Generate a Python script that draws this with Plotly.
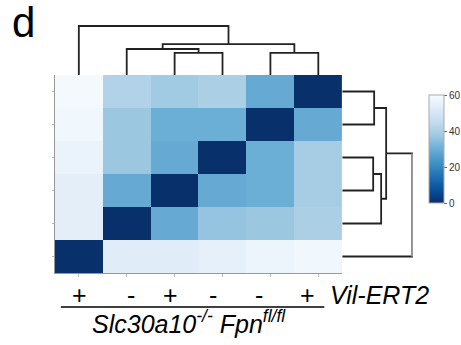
import plotly.graph_objects as go

W, H = 461, 345

# ---- data ----
samples = ["S1", "S2", "S3", "S4", "S5", "S6"]
genotype = ["+", "-", "+", "-", "-", "+"]
row_names = ["S6", "S5", "S4", "S3", "S2", "S1"]
z = [
    [59, 41, 38, 40, 29, 0],
    [58, 37, 30, 30, 0, 29],
    [56, 37, 29, 0, 30, 39],
    [54, 29, 0, 29, 30, 39],
    [54, 0, 29, 36, 37, 40],
    [0, 53, 53, 55, 57, 58],
]
# linkage (child_a, child_b, height), new cluster ids start at 6
col_links = [(2, 3, 0.45), (4, 5, 0.45), (1, 6, 0.53), (8, 7, 0.63), (0, 9, 1.0)]
row_links = [(0, 1, 0.457), (2, 3, 0.443), (7, 4, 0.557), (6, 8, 0.629), (9, 5, 1.0)]
cbar_ticks = [0, 20, 40, 60]

blues_r = [[0, '#08306b'], [0.125, '#08519c'], [0.25, '#2171b5'], [0.375, '#4292c6'],
           [0.5, '#6baed6'], [0.625, '#9ecae1'], [0.75, '#c6dbef'], [0.875, '#deebf7'],
           [1, '#f7fbff']]


def dendro(links, n):
    pos = {i: float(i) for i in range(n)}
    hgt = {i: 0.0 for i in range(n)}
    P, Q = [], []
    for k, (a, b, h) in enumerate(links):
        P += [pos[a], pos[a], pos[b], pos[b], None]
        Q += [hgt[a], h, h, hgt[b], None]
        pos[n + k] = (pos[a] + pos[b]) / 2
        hgt[n + k] = h
    return P, Q, pos, hgt


fig = go.Figure()
fig.add_trace(go.Heatmap(
    z=z, x=list(range(6)), y=list(range(6)), zmin=0, zmax=60,
    colorscale=blues_r, xaxis='x', yaxis='y',
    colorbar=dict(x=429 / W, xanchor='left', y=1 - 149 / H, yanchor='middle',
                  lenmode='pixels', len=108, thickness=15, outlinewidth=1,
                  outlinecolor='#aaa', tickvals=cbar_ticks, ticks='outside',
                  ticklen=3, tickcolor='#666', tickfont=dict(size=10, color='#333',
                  family='Arial, Liberation Sans'), xpad=0, ypad=0),
))

cx, cy, _, _ = dendro(col_links, 6)
fig.add_trace(go.Scatter(x=cx, y=cy, mode='lines', xaxis='x2', yaxis='y2',
                         line=dict(color='#222', width=1.8), hoverinfo='skip'))
rp, rh, rpos, rhgt = dendro(row_links, 6)
fig.add_trace(go.Scatter(x=rh, y=rp, mode='lines', xaxis='x3', yaxis='y3',
                         line=dict(color='#222', width=1.8), hoverinfo='skip'))
# root vertical of the row dendrogram is drawn lighter in the reference
ra, rb, rhr = row_links[-1]
fig.add_trace(go.Scatter(x=[rhr, rhr], y=[rpos[ra], rpos[rb]], mode='lines',
                         xaxis='x3', yaxis='y3', line=dict(color='#999', width=2),
                         hoverinfo='skip'))

font = 'Arial, Liberation Sans, sans-serif'
hm_x = [55 / W, 343 / W]
hm_y = [1 - 273 / H, 1 - 75 / H]
fig.update_layout(
    width=W, height=H, autosize=False, margin=dict(l=0, r=0, t=0, b=0),
    paper_bgcolor='white', plot_bgcolor='white', showlegend=False,
    font=dict(family=font, color='black'),
    xaxis=dict(domain=hm_x, range=[-0.5, 5.5], anchor='y', showline=True,
               linecolor='#999', linewidth=1, ticks='outside', ticklen=3,
               tickcolor='#bbb', tickvals=list(range(6)), showticklabels=False,
               showgrid=False, zeroline=False),
    yaxis=dict(domain=hm_y, range=[5.5, -0.5], anchor='x', showline=True,
               linecolor='#999', linewidth=1, ticks='outside', ticklen=2,
               tickcolor='#bbb', tickvals=list(range(6)), showticklabels=False,
               showgrid=False, zeroline=False),
    xaxis2=dict(domain=hm_x, range=[-0.5, 5.5], anchor='y2', visible=False),
    yaxis2=dict(domain=[1 - 75 / H, 1 - 25 / H], range=[0, 1.02], anchor='x2', visible=False),
    xaxis3=dict(domain=[343 / W, 414 / W], range=[0, 1.015], anchor='y3', visible=False),
    yaxis3=dict(domain=hm_y, range=[5.5, -0.5], anchor='x3', visible=False),
)

ann = [dict(text='d', x=10 / W, y=1 - 23 / H, xanchor='left', yanchor='middle',
            font=dict(size=42))]
label_x = [80, 131, 171, 213, 260, 308]
for t, px in zip(genotype, label_x):
    ann.append(dict(text=t, x=px / W, y=1 - 295 / H, xanchor='center', yanchor='middle',
                    font=dict(size=25)))
ann.append(dict(text='<i>Vil-ERT2</i>', x=329 / W, y=1 - 295 / H, xanchor='left',
                yanchor='middle', font=dict(size=25)))
ann.append(dict(text='<i>Slc30a10<sup>-/-</sup> Fpn<sup>fl/fl</sup></i>', x=189 / W,
                y=1 - 322 / H, xanchor='center', yanchor='middle', font=dict(size=25)))
for a in ann:
    a.update(xref='paper', yref='paper', showarrow=False)
fig.update_layout(annotations=ann)
fig.add_shape(type='line', xref='paper', yref='paper', x0=61 / W, x1=325 / W,
              y0=1 - 307 / H, y1=1 - 307 / H, line=dict(color='black', width=1.5))

fig.write_html("out.html", config={'displayModeBar': False},
               post_script="document.body.style.margin='0';")
